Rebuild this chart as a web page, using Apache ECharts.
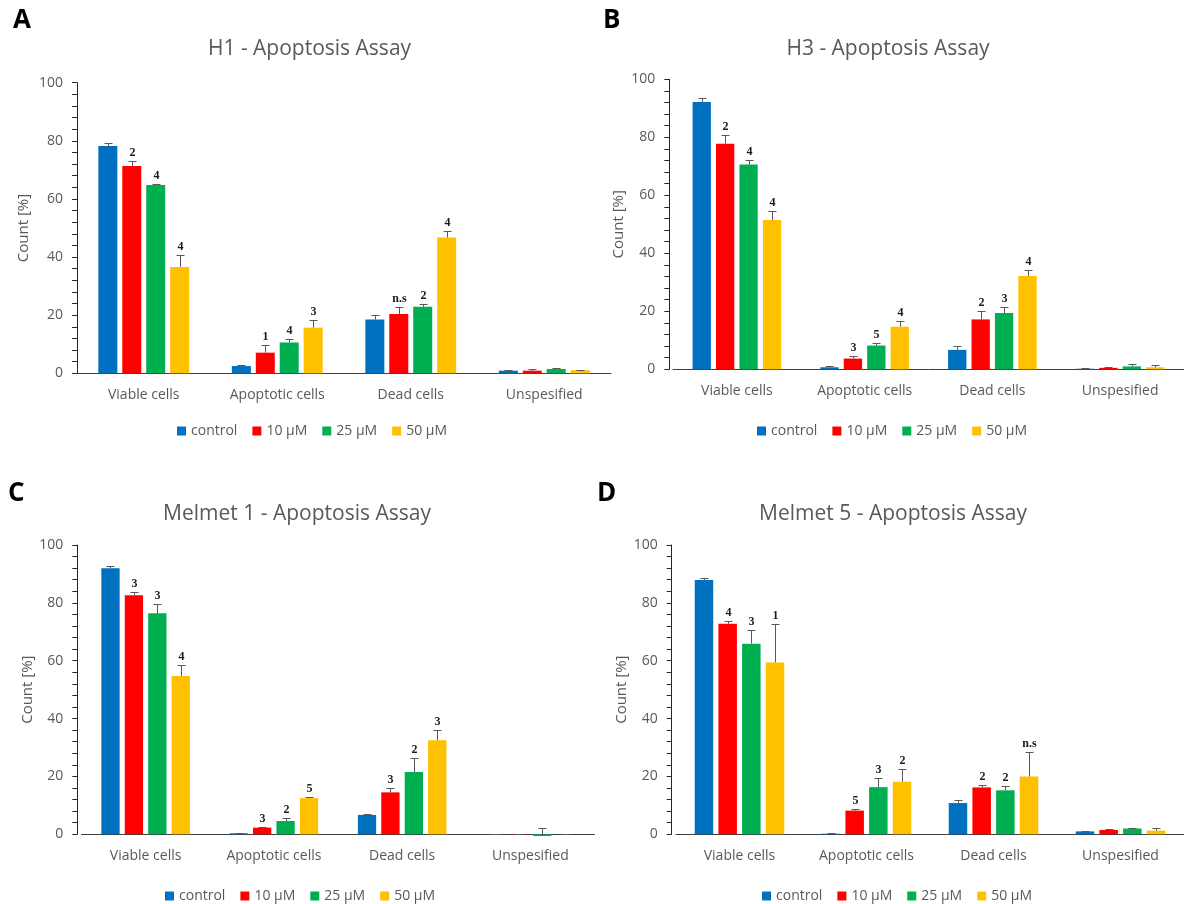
<!DOCTYPE html>
<html><head><meta charset="utf-8">
<script src="https://cdn.jsdelivr.net/npm/echarts@6/dist/echarts.min.js"></script>
<style>html,body{margin:0;padding:0;background:#fff}#c{width:1184px;height:904px}</style>
</head><body><div id="c"></div>
<script>
// ---------- data ----------
const CATEGORIES = ['Viable cells', 'Apoptotic cells', 'Dead cells', 'Unspesified'];
const SERIES_NAMES = ['control', '10 µM', '25 µM', '50 µM'];
const TITLES = ['H1 - Apoptosis Assay', 'H3 - Apoptosis Assay', 'Melmet 1 - Apoptosis Assay', 'Melmet 5 - Apoptosis Assay'];
const LETTERS = ['A', 'B', 'C', 'D'];
const Y_MIN = 0, Y_MAX = 100, Y_STEP = 20;

// rows: control, 10 µM, 25 µM, 50 µM ; columns follow CATEGORIES
const h1Values = [
  [78.2, 2.5, 18.5, 0.9],
  [71.3, 7.1, 20.4, 0.9],
  [64.8, 10.6, 22.9, 1.5],
  [36.6, 15.7, 46.7, 1.1]
];
const h1Errors = [
  [1.2, 0.2, 1.5, 0.2],
  [1.9, 2.5, 2.3, 0.5],
  [0.2, 1.1, 1.0, 0.2],
  [4.1, 2.5, 2.3, 0.2]
];
const h1Marks = [
  ['', '', '', ''],
  ['2', '1', 'n.s', ''],
  ['4', '4', '2', ''],
  ['4', '3', '4', '']
];

const h3Values = [
  [92.2, 0.7, 6.7, 0.2],
  [77.8, 3.7, 17.2, 0.5],
  [70.6, 8.2, 19.4, 1.0],
  [51.5, 14.7, 32.2, 0.7]
];
const h3Errors = [
  [1.5, 0.3, 1.3, 0.1],
  [3.0, 0.9, 2.9, 0.2],
  [1.7, 0.7, 2.2, 0.8],
  [3.2, 1.9, 2.1, 0.7]
];
const h3Marks = [
  ['', '', '', ''],
  ['2', '3', '2', ''],
  ['4', '5', '3', ''],
  ['4', '4', '4', '']
];

const m1Values = [
  [92.0, 0.35, 6.7, 0.1],
  [82.6, 2.3, 14.5, 0.1],
  [76.4, 4.6, 21.5, -0.6],
  [54.7, 12.5, 32.5, 0.0]
];
const m1Errors = [
  [0.7, 0.2, 0.2, 0.0],
  [1.3, 0.1, 1.6, 0.0],
  [3.1, 1.2, 5.0, 2.9],
  [3.7, 0.5, 3.4, 0.0]
];
const m1Marks = [
  ['', '', '', ''],
  ['3', '3', '3', ''],
  ['3', '2', '2', ''],
  ['4', '5', '3', '']
];

const m5Values = [
  [87.9, 0.2, 10.8, 1.0],
  [72.8, 8.2, 16.2, 1.5],
  [65.9, 16.3, 15.2, 2.0],
  [59.4, 18.2, 20.0, 1.3]
];
const m5Errors = [
  [0.6, 0.3, 0.9, 0.2],
  [0.8, 0.7, 0.7, 0.3],
  [4.6, 3.0, 1.6, 0.2],
  [13.2, 4.4, 8.5, 0.8]
];
const m5Marks = [
  ['', '', '', ''],
  ['4', '5', '2', ''],
  ['3', '3', '2', ''],
  ['1', '2', 'n.s', '']
];

// ---------- style / layout ----------
const COLORS = ['#0070C0', '#FF0000', '#00B050', '#FFC000'];
const FONT = '"Open Sans", "Noto Sans", sans-serif';
const GREY = '#595959';
const LAYOUT = [
  {left: 77,   top: 82.7, width: 534, height: 290.6, off: 0,   nameGap: 46, bw: 19,   gap: 26, tx: 309.5, ty: 46.7,  lx: 13,  ly: 20,  legX: 177, legY: 430},
  {left: 673,  top: 79.3, width: 511, height: 290.0, off: 3.7, nameGap: 43, bw: 18.3, gap: 28, tx: 888,   ty: 46.7,  lx: 603, ly: 20,  legX: 757, legY: 430},
  {left: 81.5, top: 545,  width: 513, height: 289.3, off: 4.2, nameGap: 42, bw: 18.3, gap: 28, tx: 297,   ty: 511.7, lx: 8,   ly: 493, legX: 165, legY: 895},
  {left: 676,  top: 545,  width: 517, height: 289.3, off: 4.3, nameGap: 42, bw: 18.5, gap: 28, tx: 893,   ty: 511.7, lx: 597, ly: 493, legX: 762, legY: 895}
];
const PANEL_DATA = [
  [h1Values, h1Errors, h1Marks],
  [h3Values, h3Errors, h3Marks],
  [m1Values, m1Errors, m1Marks],
  [m5Values, m5Errors, m5Marks]
];

const grid = [], xAxis = [], yAxis = [], series = [], title = [], legend = [];

PANEL_DATA.forEach(([vals, errs, marks], p) => {
  const L = LAYOUT[p];
  grid.push({left: L.left, top: L.top, width: L.width, height: L.height, containLabel: false});
  xAxis.push({
    gridIndex: p, type: 'category', data: CATEGORIES,
    axisTick: {show: false},
    axisLine: {show: true, lineStyle: {color: '#404040', width: 1}},
    axisLabel: {color: GREY, fontSize: 14, fontFamily: FONT, margin: 15, interval: 0}
  });
  yAxis.push({
    gridIndex: p, type: 'value', min: Y_MIN, max: Y_MAX, interval: Y_STEP, offset: L.off,
    name: 'Count [%]', nameLocation: 'middle', nameGap: L.nameGap,
    nameTextStyle: {color: GREY, fontSize: 15, fontFamily: FONT},
    axisLine: {show: true, lineStyle: {color: '#262626', width: 1}},
    axisTick: {show: true, length: 5, lineStyle: {color: '#262626'}},
    minorTick: {show: true, splitNumber: 5, length: 5, lineStyle: {color: '#262626'}},
    splitLine: {show: false}, minorSplitLine: {show: false},
    axisLabel: {color: GREY, fontSize: 14, fontFamily: FONT, margin: 14}
  });
  title.push({
    text: TITLES[p], left: L.tx, top: L.ty - 8.3, textAlign: 'center', padding: 0,
    textStyle: {color: GREY, fontSize: 21, fontWeight: 'normal', fontFamily: FONT}
  });
  title.push({
    text: LETTERS[p], left: L.lx, top: L.ly - 12, padding: 0,
    textStyle: {color: '#000', fontSize: 26, fontWeight: 'bold', fontFamily: FONT}
  });
  legend.push({
    data: SERIES_NAMES, left: L.legX, top: L.legY - 6, padding: 0,
    itemWidth: 9, itemHeight: 9, itemGap: 15, icon: 'rect', selectedMode: false,
    textStyle: {color: GREY, fontSize: 14, fontFamily: FONT}
  });
  vals.forEach((row, s) => {
    series.push({
      type: 'bar', name: SERIES_NAMES[s], xAxisIndex: p, yAxisIndex: p,
      data: row, barWidth: L.bw, barGap: L.gap + '%', clip: false,
      itemStyle: {color: COLORS[s]}, z: 2
    });
  });
  vals.forEach((row, s) => {
    const step = L.bw * (1 + L.gap / 100);
    const offX = (s - 1.5) * step;
    const markRow = marks[s];
    series.push({
      type: 'custom', name: 'err-' + p + '-' + s, xAxisIndex: p, yAxisIndex: p,
      silent: true, clip: false, z: 5,
      data: row.map((v, i) => [i, v, errs[s][i]]),
      encode: {x: 0, y: 1},
      renderItem(params, api) {
        const c = api.value(0), v = api.value(1), e = api.value(2);
        const x = Math.round(api.coord([c, 0])[0] + offX) + 0.5;
        const yb = api.coord([c, v])[1];
        const yt = Math.round(api.coord([c, v + e])[1]) + 0.5;
        const children = [
          {type: 'line', shape: {x1: x, y1: yb, x2: x, y2: yt}, style: {stroke: '#595959', lineWidth: 1}},
          {type: 'line', shape: {x1: x - 4, y1: yt, x2: x + 4, y2: yt}, style: {stroke: '#595959', lineWidth: 1}}
        ];
        const m = markRow[params.dataIndex];
        if (m) {
          children.push({type: 'text', x: x, y: yt - 3,
            style: {text: m, align: 'center', verticalAlign: 'bottom',
              font: 'bold 12px "Liberation Serif", "DejaVu Serif", serif', fill: '#1a1a1a'}});
        }
        return {type: 'group', children};
      }
    });
  });
});

const chart = echarts.init(document.getElementById('c'), null, {renderer: 'canvas'});
chart.setOption({
  backgroundColor: '#fff',
  animation: false,
  color: COLORS,
  title, legend, grid, xAxis, yAxis, series
});
</script>
</body></html>
